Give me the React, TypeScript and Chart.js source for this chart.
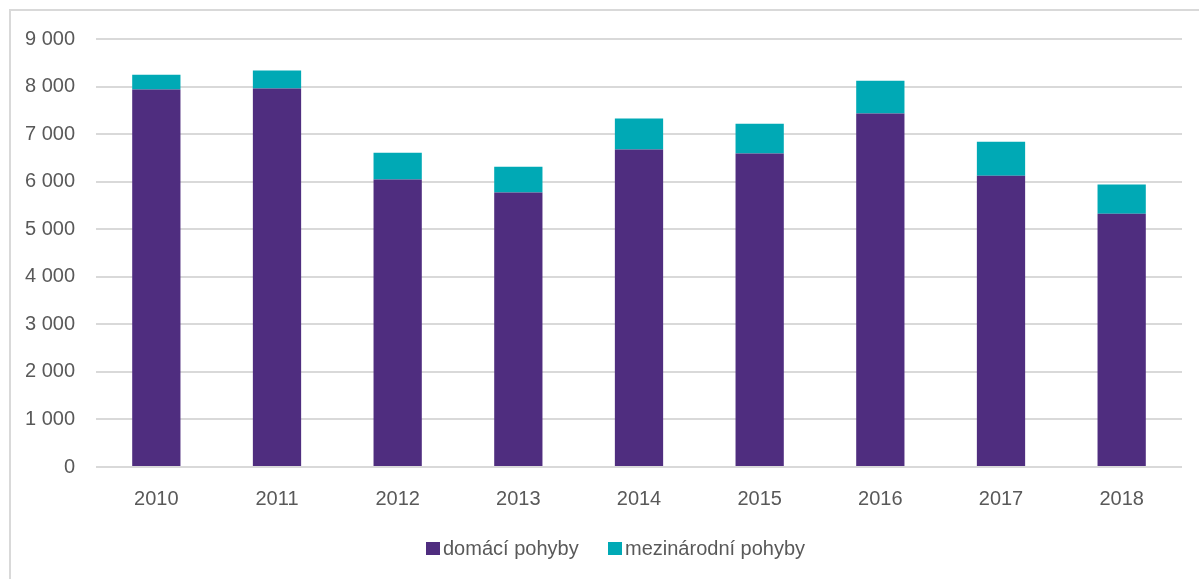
import { useEffect, useRef } from "react";
import { Chart, registerables } from "chart.js";
Chart.register(...registerables);

const years = ["2010", "2011", "2012", "2013", "2014", "2015", "2016", "2017", "2018"];
const domaci = [7940, 7960, 6045, 5770, 6677, 6593, 7435, 6124, 5324];
const mezinarodni = [310, 380, 563, 543, 653, 625, 688, 715, 617];
const seriesNames = ["domácí pohyby", "mezinárodní pohyby"];
const seriesColors = ["#4F2D7F", "#00A9B5"];
const yMax = 9000;
const yStep = 1000;

const FONT = '"Liberation Sans", Arial, sans-serif';
const TEXT = "#595959";

export default function App() {
  const ref = useRef<HTMLCanvasElement | null>(null);
  useEffect(() => {
    if (!ref.current) return;
    const chart = new Chart(ref.current, {
      type: "bar",
      data: {
        labels: years,
        datasets: [
          { label: seriesNames[0], data: domaci, backgroundColor: seriesColors[0], borderWidth: 0, barPercentage: 0.4, categoryPercentage: 1 },
          { label: seriesNames[1], data: mezinarodni, backgroundColor: seriesColors[1], borderWidth: 0, barPercentage: 0.4, categoryPercentage: 1 },
        ],
      },
      options: {
        animation: false,
        responsive: false,
        devicePixelRatio: 1,
        layout: { padding: { left: 0, right: 17, top: 39, bottom: 0 } },
        plugins: { legend: { display: false }, tooltip: { enabled: false } },
        scales: {
          x: {
            stacked: true,
            grid: { display: false },
            border: { display: false },
            ticks: { color: TEXT, font: { family: FONT, size: 20 }, padding: 12 },
            afterFit: (s: any) => { s.height = 112; },
          },
          y: {
            stacked: true,
            min: 0,
            max: yMax,
            ticks: {
              stepSize: yStep,
              color: TEXT,
              font: { family: FONT, size: 20 },
              padding: 21,
              callback: (v: any) => String(v).replace(/\B(?=(\d{3})+(?!\d))/g, " "),
            },
            grid: { color: "#D9D9D9", lineWidth: 2, drawTicks: false },
            border: { display: false },
            afterFit: (s: any) => { s.width = 96; },
          },
        },
      },
    });
    return () => chart.destroy();
  }, []);

  const legendItem = (i: number, left: number) => (
    <div key={i} style={{ position: "absolute", left, top: 536, height: 24, display: "flex", alignItems: "center" }}>
      <span style={{ display: "inline-block", width: 14, height: 13, background: seriesColors[i], marginRight: 3 }} />
      <span style={{ fontFamily: FONT, fontSize: 20, color: TEXT, lineHeight: "24px" }}>{seriesNames[i]}</span>
    </div>
  );

  return (
    <div style={{ position: "fixed", left: 0, top: 0, width: 1199, height: 579, background: "#fff", overflow: "hidden" }}>
      <div style={{ position: "absolute", left: 9, top: 9, width: 1400, height: 800, borderTop: "2px solid #D9D9D9", borderLeft: "2px solid #D9D9D9" }} />
      <canvas ref={ref} width={1199} height={579} style={{ position: "absolute", left: 0, top: 0, width: 1199, height: 579 }} />
      {legendItem(0, 426)}
      {legendItem(1, 608)}
    </div>
  );
}
